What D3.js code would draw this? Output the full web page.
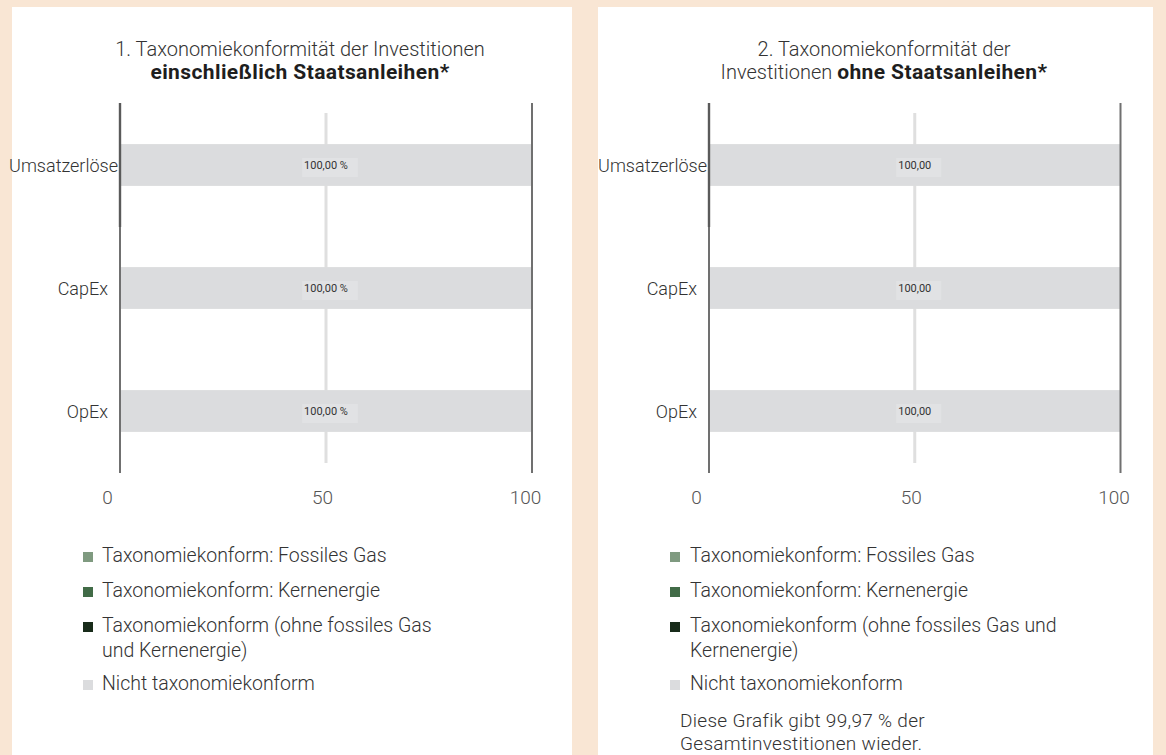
<!DOCTYPE html>
<html>
<head>
<meta charset="utf-8">
<script src="https://cdn.jsdelivr.net/npm/d3@7"></script>
<style>
  html, body { margin: 0; padding: 0; background: #f9e6d4; }
  svg { display: block; }
  text { font-family: Roboto, "Liberation Sans", sans-serif; }
</style>
</head>
<body>
<svg id="chart" width="1166" height="755"></svg>
<script>
// ---------------- DATA ----------------
const categories = ["Umsatzerlöse", "CapEx", "OpEx"];
const seriesKeys = ["gas", "nuclear", "aligned", "notAligned"];
const seriesNames = [
  "Taxonomiekonform: Fossiles Gas",
  "Taxonomiekonform: Kernenergie",
  "Taxonomiekonform (ohne fossiles Gas und Kernenergie)",
  "Nicht taxonomiekonform"
];
// Chart 1: including sovereign bonds
const inclGas        = [0, 0, 0];
const inclNuclear    = [0, 0, 0];
const inclAligned    = [0, 0, 0];
const inclNotAligned = [100, 100, 100];
const inclLabels     = ["100,00 %", "100,00 %", "100,00 %"];
// Chart 2: excluding sovereign bonds
const exclGas        = [0, 0, 0];
const exclNuclear    = [0, 0, 0];
const exclAligned    = [0, 0, 0];
const exclNotAligned = [100, 100, 100];
const exclLabels     = ["100,00", "100,00", "100,00"];

const xTicks = [0, 50, 100];
const titleIncl = ["1. Taxonomiekonformität der Investitionen", [["einschließlich Staatsanleihen*", true]]];
const titleExcl = ["2. Taxonomiekonformität der", [["Investitionen ", false], ["ohne Staatsanleihen*", true]]];
const legendLinesIncl = [
  ["Taxonomiekonform: Fossiles Gas"],
  ["Taxonomiekonform: Kernenergie"],
  ["Taxonomiekonform (ohne fossiles Gas", "und Kernenergie)"],
  ["Nicht taxonomiekonform"]
];
const legendLinesExcl = [
  ["Taxonomiekonform: Fossiles Gas"],
  ["Taxonomiekonform: Kernenergie"],
  ["Taxonomiekonform (ohne fossiles Gas und", "Kernenergie)"],
  ["Nicht taxonomiekonform"]
];
const noteExcl = ["Diese Grafik gibt 99,97 % der", "Gesamtinvestitionen wieder."];

// ---------------- STYLE ----------------
const seriesColors = ["#7f9a80", "#416b47", "#182b1a", "#dbdcde"];

const svg = d3.select("#chart");

function buildRows(gas, nuc, al, not) {
  return categories.map((c, i) => ({ cat: c, gas: gas[i], nuclear: nuc[i], aligned: al[i], notAligned: not[i] }));
}

const panels = [
  { px: 12, pw: 560, x0: 120, x1: 532, tcx: 300, sqx: 83, tx: 102,
    rows: buildRows(inclGas, inclNuclear, inclAligned, inclNotAligned),
    labels: inclLabels, title: titleIncl, legend: legendLinesIncl, note: null },
  { px: 598, pw: 555, x0: 709, x1: 1120.5, tcx: 884, sqx: 670, tx: 690,
    rows: buildRows(exclGas, exclNuclear, exclAligned, exclNotAligned),
    labels: exclLabels, title: titleExcl, legend: legendLinesExcl, note: noteExcl }
];

const stack = d3.stack().keys(seriesKeys);

panels.forEach(p => {
  const g = svg.append("g");
  g.append("rect").attr("x", p.px).attr("y", 7).attr("width", p.pw).attr("height", 760).attr("fill", "#ffffff");

  // title
  const t = g.append("text").attr("text-anchor", "middle").attr("fill", "#333");
  t.append("tspan").attr("x", p.tcx).attr("y", 56).attr("font-size", 20).attr("font-weight", 300).text(p.title[0]);
  const l2 = t.append("tspan").attr("x", p.tcx).attr("y", 79);
  p.title[1].forEach(([s, b]) => {
    l2.append("tspan").attr("font-weight", b ? 700 : 300).attr("font-size", b ? 21 : 20)
      .attr("letter-spacing", b ? 0.4 : 0)
      .attr("fill", b ? "#1e1e1e" : "#333").text(s);
  });

  const x = d3.scaleLinear().domain([0, 100]).range([p.x0, p.x1]);
  const y = d3.scaleBand().domain(categories).range([103.5, 472.5]).paddingInner(0.66).paddingOuter(0.33);

  // gridline at 50
  g.append("line").attr("x1", x(50)).attr("x2", x(50)).attr("y1", 113).attr("y2", 463)
    .attr("stroke", "#dfdfdf").attr("stroke-width", 3);

  // stacked bars
  const series = stack(p.rows);
  series.forEach((s, si) => {
    g.append("g").selectAll("rect").data(s.filter(d => d[1] - d[0] > 0)).join("rect")
      .attr("x", d => x(d[0]))
      .attr("width", d => x(d[1]) - x(d[0]))
      .attr("y", d => y(d.data.cat))
      .attr("height", y.bandwidth())
      .attr("fill", seriesColors[si]);
  });

  // value labels
  const last = series[series.length - 1];
  last.forEach((d, i) => {
    const cx = x((d[0] + d[1]) / 2);
    const cy = y(d.data.cat) + y.bandwidth() / 2;
    const lg = g.append("g");
    const box = lg.append("rect").attr("fill", "#e1e2e4");
    const tx = lg.append("text").attr("x", cx).attr("y", cy + 4).attr("text-anchor", "middle")
      .attr("font-size", 11).attr("fill", "#333").text(p.labels[i]);
    const w = tx.node().getComputedTextLength();
    box.attr("x", cx - w / 2 - 2).attr("y", cy - 7).attr("width", w + 12).attr("height", 19);
  });

  // axis lines at 0 and 100
  [0, 100].forEach(v => {
    g.append("line").attr("x1", x(v)).attr("x2", x(v)).attr("y1", 103).attr("y2", 473)
      .attr("stroke", "#707070").attr("stroke-width", 2);
  });
  g.append("line").attr("x1", x(0)).attr("x2", x(0)).attr("y1", 103).attr("y2", 227)
    .attr("stroke", "#5a5a5a").attr("stroke-width", 2.4);

  // category labels
  categories.forEach(c => {
    const tl = g.append("text").attr("y", y(c) + y.bandwidth() / 2 + 6.5).attr("font-size", 18)
      .attr("font-weight", 300).attr("fill", "#333").text(c);
    const w = tl.node().getComputedTextLength();
    let sx = x(0) - 12 - w;
    if (sx < p.px - 2) sx = x(0) - 2 - w;
    tl.attr("x", sx);
  });

  // x tick labels
  const ax = g.append("g").attr("transform", "translate(0,473)")
    .call(d3.axisBottom(x).tickValues(xTicks).tickSize(0).tickPadding(0).tickFormat(d3.format("d")));
  ax.select(".domain").remove();
  ax.selectAll("text").attr("font-size", 19).attr("font-weight", 300).attr("fill", "#555")
    .attr("font-family", "Roboto, sans-serif").attr("dx", d => d === 0 ? -13 : (d === 50 ? -4 : -7))
    .attr("dy", 0).attr("y", 31);

  // legend
  const rowY = [562, 597, 632, 690];
  p.legend.forEach((lines, i) => {
    g.append("rect").attr("x", p.sqx).attr("y", rowY[i] - 10).attr("width", 10).attr("height", 10)
      .attr("fill", seriesColors[i]);
    lines.forEach((ln, j) => {
      g.append("text").attr("x", p.tx).attr("y", rowY[i] + j * 25).attr("font-size", 19.5)
        .attr("font-weight", 300).attr("fill", "#333").text(ln);
    });
  });

  if (p.note) {
    p.note.forEach((ln, j) => {
      g.append("text").attr("x", p.sqx + 10).attr("y", 727 + j * 23).attr("font-size", 19)
        .attr("letter-spacing", 0.3)
        .attr("font-weight", 300).attr("fill", "#333").text(ln);
    });
  }
});
</script>
</body>
</html>
